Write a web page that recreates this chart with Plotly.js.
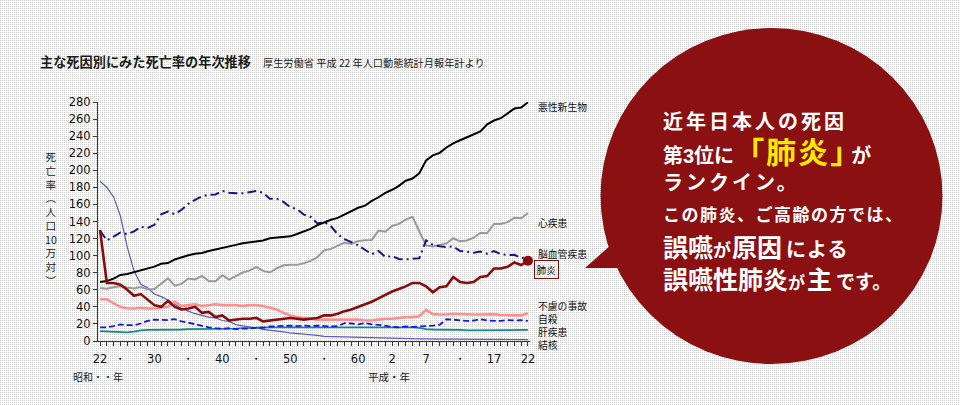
<!DOCTYPE html>
<html>
<head>
<meta charset="utf-8">
<script src="https://cdn.plot.ly/plotly-3.0.1.min.js"></script>
<style>
html,body{margin:0;padding:0;}
body{width:960px;height:405px;position:relative;overflow:hidden;background-color:#fff;
  background-image:linear-gradient(90deg, rgba(255,255,255,0) 1px, #fff 1px), linear-gradient(180deg, #cfcfcf 1px, #fff 1px);
  background-size:2px 2px;}
#chart{position:absolute;left:0;top:0;width:960px;height:405px;}
#bubble{position:absolute;left:0;top:0;}
.t{position:absolute;white-space:nowrap;color:#fff;font-family:"Liberation Sans","Noto Sans CJK JP",sans-serif;font-weight:700;}
.t span{display:inline-block;}
</style>
</head>
<body>
<div id="chart"></div>
<svg id="bubble" width="960" height="405">
  <ellipse cx="771.5" cy="196" rx="171" ry="168" fill="#8a1012"/>
  <polygon points="585,268 612,244 626,268" fill="#8a1012"/>
</svg>
<div class="t" style="left:663px;top:111.8px;font-size:20px;line-height:20px;letter-spacing:3px;">近年日本人の死因</div>
<div class="t" style="left:663px;top:137.7px;font-size:20px;line-height:20px;"><span style="line-height:20px;">第3位に</span><span style="font-size:30px;line-height:30px;color:#ffe800;letter-spacing:2px;">「肺炎</span><span style="font-size:30px;line-height:30px;color:#ffe800;letter-spacing:-9px;">」</span><span style="line-height:20px;">が</span></div>
<div class="t" style="left:663px;top:172.8px;font-size:20px;line-height:20px;letter-spacing:3px;">ランクイン。</div>
<div class="t" style="left:663px;top:206.5px;font-size:17px;line-height:17px;letter-spacing:1.5px;">この肺炎、ご高齢の方では、</div>
<div class="t" style="left:663px;top:236.2px;font-size:18px;line-height:18px;"><span style="font-size:25px;line-height:25px;">誤嚥</span><span style="line-height:18px;letter-spacing:1px;">が</span><span style="font-size:25px;line-height:25px;">原因</span><span style="font-size:20px;line-height:20px;letter-spacing:1px;margin-left:4px;">による</span></div>
<div class="t" style="left:663px;top:268.2px;font-size:17px;line-height:17px;"><span style="font-size:25px;line-height:25px;">誤嚥性肺炎</span><span style="line-height:17px;">が</span><span style="font-size:25px;line-height:25px;margin-left:2px;">主</span><span style="font-size:19px;line-height:19px;margin-left:4px;">です。</span></div>
<script>
// ---- data (rate per 100,000 population) ----
const years = [1947,1948,1949,1950,1951,1952,1953,1954,1955,1956,
  1957,1958,1959,1960,1961,1962,1963,1964,1965,1966,
  1967,1968,1969,1970,1971,1972,1973,1974,1975,1976,
  1977,1978,1979,1980,1981,1982,1983,1984,1985,1986,
  1987,1988,1989,1990,1991,1992,1993,1994,1995,1996,
  1997,1998,1999,2000,2001,2002,2003,2004,2005,2006,
  2007,2008,2009,2010];

const malignant = [69.0,70.4,73.0,77.4,78.5,80.8,82.2,85.3,87.1,90.4,
  91.3,95.5,98.2,100.4,102.3,103.2,105.5,107.2,108.4,110.8,
  112.6,114.6,115.8,116.3,117.7,120.4,121.2,122.2,122.6,125.3,
  128.4,131.3,135.7,139.1,142.0,144.2,148.3,152.5,156.1,158.5,
  164.2,168.4,173.6,177.2,181.7,187.8,190.4,196.4,211.6,217.5,
  220.4,226.7,231.6,235.2,238.8,241.7,245.4,253.9,258.3,261.0,
  266.9,272.3,273.5,279.7];

const heart = [62.2,61.1,62.9,64.2,62.6,61.6,63.2,60.5,60.9,67.6,
  73.4,64.8,66.9,73.2,72.1,76.2,70.3,70.1,77.0,71.9,
  75.7,80.2,82.4,86.7,82.1,80.2,85.0,88.7,89.2,89.2,
  91.1,93.8,98.3,106.2,107.9,111.7,115.3,113.8,117.3,117.9,
  118.4,129.4,128.1,134.8,137.2,142.2,145.6,128.6,112.0,110.8,
  112.2,114.3,120.4,116.8,117.8,121.0,126.5,126.5,137.2,137.2,
  139.2,144.4,143.7,149.8];

const cerebro = [129.4,117.9,122.3,127.1,125.2,128.5,133.7,132.4,136.1,148.4,
  151.7,148.6,153.7,160.7,165.4,169.4,171.4,171.7,175.8,173.8,
  173.1,173.1,174.4,175.8,173.6,166.7,166.8,163.0,156.7,154.5,
  148.1,145.6,137.7,139.5,134.3,125.0,119.3,116.2,112.2,106.9,
  101.7,105.5,98.5,99.4,96.2,95.6,96.0,96.9,117.9,112.6,
  111.0,110.0,110.8,105.5,104.7,103.4,104.7,102.3,105.3,101.7,
  100.8,100.9,97.2,97.7];

const pneumonia = [130,68,68,66,60,53,55,48,42,40,
  47,40,37,38,40,33,34,28,30,24,
  25,26,26,27,23,24,25,26,27,26,
  25,26,27,30,30,32,35,37,40,43,
  46,50,54,58,61,64,68,68,64,57,
  63,64,75,69,68,69,75,76,85,85,
  87,92,89,94];

const accident = [49,49,44,40,38,38,39,38,38,39,
  40,46,41,42,43,41,42,43,42,42,
  42,41,42,42,41,39,37,33,30,28,
  27,26,25,25,25,25,25,25,25,24,
  24,25,26,26,27,28,28,29,36.5,31.5,
  31,31,32,31.5,31.5,31,31,31,31.5,30.5,
  30.5,30.5,30,32.5];

const suicide = [16,16,17.5,19.5,18.5,18.5,20.5,23.5,25,24.5,
  24.5,25.5,23,21.5,19.5,17.5,16,15,14.5,15,
  14,14.5,14.5,15.5,15.5,17,17.5,17.5,18,17.5,
  18,17.5,18,17.5,17,17.5,21,20.5,19.5,21,
  19.5,19,17.5,16.5,16,17,16.5,17,17,18,
  19,25.5,25,24,23.5,24,25.5,24,24,23.5,
  24.5,24,24.5,23.5];

const liver = [11.5,11,10.5,10,10,11,12.5,13,13,13,
  13.5,13.5,13.5,14,14,14,14,14,14.5,14.5,
  14.5,15,15,15.5,16,16,16.5,16.5,16.5,16.5,
  16.5,16.5,16.5,16.5,16.5,16.5,16.5,16.5,16.5,16,
  16,16,16,16,16,16,16,15.5,14,13.5,
  13.5,13.5,13,13,12.5,12.5,12.5,12.5,13,13,
  13,13,13,13];

const tuberculosis = [187.2,179.9,168.8,146.4,110.3,82.2,66.5,62.4,55,52,
  48,43,38,35,32,30,28,27,24,23,
  19.2,17.8,16.8,15.4,13.6,12.8,11.9,10.7,9.5,8.9,
  8.0,7.4,6.5,5.5,5.3,4.7,4.6,4.4,3.9,3.6,
  3.4,3.1,3.0,3.0,2.7,2.7,2.6,2.6,2.6,2.3,
  2.2,2.2,2.3,2.1,2.0,1.8,1.9,1.8,1.8,1.8,
  1.7,1.8,1.7,1.7];

const xTickYears = [1947,1950,1955,1960,1965,1970,1975,1980,1985,1990,1995,2000,2005,2010];
const xTickText  = ['22','・','30','・','40','・','50','・','60','2','7','・','17','22'];

const seriesNames = ['悪性新生物','心疾患','脳血管疾患','肺炎','不慮の事故','自殺','肝疾患','結核'];
const titleText = '主な死因別にみた死亡率の年次推移';
const sourceText = '厚生労働省 平成 22 年人口動態統計月報年計より';
const yTitleChars = ['死','亡','率','︵','人','口','10','万','対','︶'];
const eraShowa = '昭和・・年';
const eraHeisei = '平成・年';

// ---- layout helpers (pixel -> paper) ----
const L = 98, R = 530, T = 102, B = 341;
const W = R - L, H = B - T;
const fx = px => (px - L) / W;
const fy = py => (B - py) / H;

const JP = '"Noto Sans CJK JP", "Noto Sans", sans-serif';

function line(name, y, color, width, dash) {
  return {type:'scatter', mode:'lines', x:years, y:y, name:name,
    line:{color:color, width:width, dash:dash || 'solid'}, hoverinfo:'skip', showlegend:false};
}

const data = [
  line(seriesNames[7], tuberculosis, '#5a5ac4', 1.2),
  line(seriesNames[6], liver, '#128a87', 1.8),
  line(seriesNames[5], suicide, '#1414f0', 1.8, '6px,3px'),
  line(seriesNames[4], accident, '#ff8f8f', 2.6),
  line(seriesNames[1], heart, '#999999', 2),
  line(seriesNames[2], cerebro, '#16168a', 2, '9px,4px,2px,4px'),
  line(seriesNames[0], malignant, '#000000', 2),
  line(seriesNames[3], pneumonia, '#8b0a0a', 2.6),
  {type:'scatter', mode:'markers', x:[years[years.length-1]], y:[pneumonia[pneumonia.length-1]],
    marker:{size:10, color:'#8b0a0a'}, cliponaxis:false, hoverinfo:'skip', showlegend:false}
];

const labelY = [107, 223, 254, 269.5, 306, 319, 332, 345];
const annotations = [];
seriesNames.forEach((n, i) => {
  const a = {xref:'paper', yref:'paper', x:fx(i === 3 ? 534 : 537), y:fy(labelY[i]),
    xanchor:'left', yanchor:'middle', showarrow:false, text:n, borderpad:0,
    font:{family:JP, size:9.8, color:'#111'}};
  if (i === 3) { a.bordercolor = '#7a0a0a'; a.borderwidth = 1; a.borderpad = 1.5; }
  annotations.push(a);
});
annotations.push({xref:'paper', yref:'paper', x:fx(38), y:fy(61), xanchor:'left', yanchor:'middle',
  showarrow:false, text:titleText, font:{family:JP, size:13.2, color:'#1a1a1a', weight:'bold'}});
annotations.push({xref:'paper', yref:'paper', x:fx(261), y:fy(62), xanchor:'left', yanchor:'middle',
  showarrow:false, text:sourceText, font:{family:JP, size:10.2, color:'#1a1a1a'}});
annotations.push({xref:'paper', yref:'paper', x:fx(51), y:fy(218), xanchor:'center', yanchor:'middle',
  showarrow:false, text:yTitleChars.join('<br>'), align:'center',
  font:{family:JP, size:10.6, color:'#1a1a1a'}});
annotations.push({xref:'paper', yref:'paper', x:fx(71), y:fy(376), xanchor:'left', yanchor:'middle',
  showarrow:false, text:eraShowa, font:{family:JP, size:10, color:'#1a1a1a'}});
annotations.push({xref:'paper', yref:'paper', x:fx(389), y:fy(376), xanchor:'center', yanchor:'middle',
  showarrow:false, text:eraHeisei, font:{family:JP, size:10.5, color:'#1a1a1a'}});

const axisColor = '#3a3a3a';
const layout = {
  width:960, height:405,
  margin:{l:L, r:960-R, t:T, b:405-B, pad:0},
  paper_bgcolor:'rgba(0,0,0,0)', plot_bgcolor:'rgba(0,0,0,0)',
  showlegend:false,
  xaxis:{range:[1946.7, 2010.3], tickmode:'array', tickvals:xTickYears, ticktext:xTickText,
    ticks:'outside', ticklen:4, tickcolor:axisColor, showline:true, linecolor:axisColor, linewidth:1,
    showgrid:false, zeroline:false, ticklabelstandoff:3,
    tickfont:{family:'DejaVu Sans', size:11.5, color:'#111'},
    minor:{tickmode:'linear', tick0:1947, dtick:1, ticks:'outside', ticklen:4, tickcolor:axisColor, showgrid:false}},
  yaxis:{range:[0, 280], tickmode:'linear', tick0:0, dtick:20,
    ticks:'outside', ticklen:4, tickcolor:axisColor, showline:true, linecolor:axisColor, linewidth:1,
    showgrid:false, zeroline:false,
    tickfont:{family:'DejaVu Sans', size:11.5, color:'#111'}},
  annotations:annotations
};

Plotly.newPlot('chart', data, layout, {staticPlot:true, displayModeBar:false});
</script>
</body>
</html>
